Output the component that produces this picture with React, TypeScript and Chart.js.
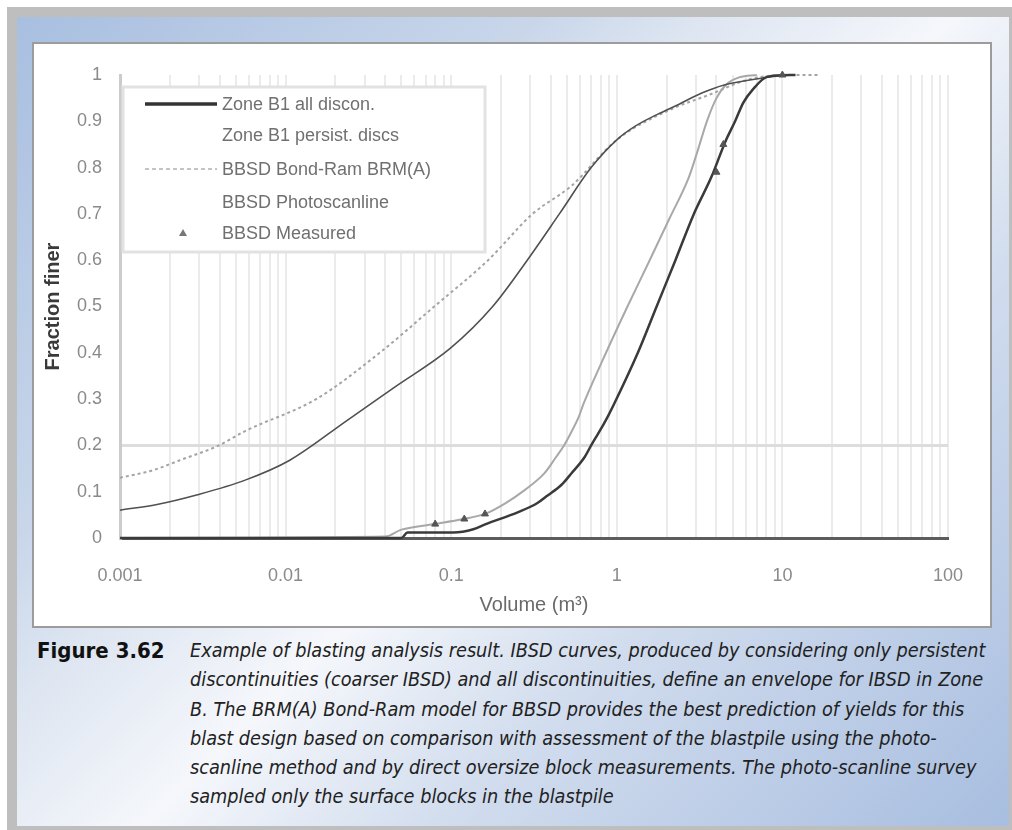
import React, { useEffect, useRef } from 'react';
import { Chart, registerables } from 'chart.js';

Chart.register(...registerables);

// ---- Axis ticks ----
const X_TICK_VALUES = [0.001, 0.01, 0.1, 1, 10, 100];
const X_TICK_LABELS = ['0.001', '0.01', '0.1', '1', '10', '100'];
const X_GRID_MULTIPLES = [1, 2, 3, 4, 5, 6, 7, 8, 9];
const Y_TICK_LABELS = ['0', '0.1', '0.2', '0.3', '0.4', '0.5', '0.6', '0.7', '0.8', '0.9', '1'];

// ---- Series names ----
const SERIES_NAMES = [
  'Zone B1 all discon.',
  'Zone B1 persist. discs',
  'BBSD Bond-Ram BRM(A)',
  'BBSD Photoscanline',
  'BBSD Measured',
];

// ---- Series values (volume m³, fraction finer) ----
const ALL_DISC_VOL = [0.001, 0.05, 0.0545, 0.103, 0.136, 0.162, 0.254, 0.33, 0.376, 0.464, 0.533, 0.64, 0.7, 0.77, 0.83, 0.89, 0.95, 1.34, 1.74, 2.26, 2.92, 3.73, 4.51, 5.18, 5.8, 6.6, 8.1, 12];
const ALL_DISC_FRAC = [0, 0, 0.012, 0.012, 0.019, 0.03, 0.056, 0.075, 0.09, 0.115, 0.14, 0.175, 0.2, 0.225, 0.245, 0.265, 0.285, 0.4, 0.5, 0.6, 0.7, 0.78, 0.855, 0.9, 0.94, 0.968, 0.996, 1];

const PERSIST_VOL = [0.001, 0.04, 0.05, 0.079, 0.118, 0.16, 0.212, 0.279, 0.366, 0.43, 0.48, 0.53, 0.59, 0.63, 0.8, 1.16, 1.58, 2.08, 2.73, 3.1, 3.5, 4.0, 4.6, 5.5, 7];
const PERSIST_FRAC = [0, 0.003, 0.018, 0.03, 0.041, 0.052, 0.075, 0.104, 0.14, 0.175, 0.2, 0.228, 0.262, 0.29, 0.375, 0.5, 0.6, 0.69, 0.78, 0.84, 0.9, 0.95, 0.98, 0.995, 1];

const BONDRAM_VOL = [0.001, 0.0016, 0.0023, 0.0039, 0.0057, 0.0153, 0.037, 0.079, 0.167, 0.31, 0.53, 1.0, 2.1, 3.6, 6.2, 10.6, 17];
const BONDRAM_FRAC = [0.13, 0.147, 0.168, 0.199, 0.231, 0.3, 0.4, 0.5, 0.6, 0.7, 0.76, 0.86, 0.925, 0.957, 0.99, 1, 1];

const PHOTO_VOL = [0.001, 0.0017, 0.0029, 0.0057, 0.0106, 0.0231, 0.0456, 0.099, 0.178, 0.288, 0.45, 0.7, 1.0, 1.3, 1.76, 2.38, 3.26, 4.4, 8.1, 10.6];
const PHOTO_FRAC = [0.06, 0.073, 0.093, 0.125, 0.168, 0.252, 0.326, 0.41, 0.5, 0.6, 0.7, 0.8, 0.86, 0.89, 0.915, 0.937, 0.961, 0.978, 0.995, 1];

const MEASURED_VOL = [0.08, 0.12, 0.16, 4.0, 4.4, 10];
const MEASURED_FRAC = [0.03, 0.041, 0.052, 0.79, 0.85, 1];

const CAPTION_LINES = [
  'Example of blasting analysis result. IBSD curves, produced by considering only persistent',
  'discontinuities (coarser IBSD) and all discontinuities, define an envelope for IBSD in Zone',
  'B. The BRM(A) Bond-Ram model for BBSD provides the best prediction of yields for this',
  'blast design based on comparison with assessment of the blastpile using the photo-',
  'scanline method and by direct oversize block measurements. The photo-scanline survey',
  'sampled only the surface blocks in the blastpile',
];

const pts = (xs: number[], ys: number[]) => xs.map((x, i) => ({ x, y: ys[i] }));

const FONT = '"Liberation Sans", Arial, sans-serif';

const legendPlugin = {
  id: 'boxLegend',
  beforeDatasetsDraw(chart: any) {
    const ctx = chart.ctx as CanvasRenderingContext2D;
    const bx = 89, by = 43, bw = 362, bh = 165;
    ctx.save();
    ctx.fillStyle = '#ffffff';
    ctx.fillRect(bx, by, bw, bh);
    ctx.strokeStyle = '#e2e2e2';
    ctx.lineWidth = 3;
    ctx.strokeRect(bx, by, bw, bh);
    const rows = [60, 91, 125, 158, 189];
    const x0 = 111, x1 = 183, tx = 188;
    ctx.font = '18px ' + FONT;
    ctx.fillStyle = '#707070';
    ctx.textBaseline = 'middle';
    ctx.textAlign = 'left';
    rows.forEach((y, i) => {
      if (i === 0) {
        ctx.strokeStyle = '#333333';
        ctx.lineWidth = 3.5;
        ctx.setLineDash([]);
        ctx.beginPath(); ctx.moveTo(x0, y); ctx.lineTo(x1, y); ctx.stroke();
      } else if (i === 2) {
        ctx.strokeStyle = '#c4c4c4';
        ctx.lineWidth = 2;
        ctx.setLineDash([4, 3]);
        ctx.beginPath(); ctx.moveTo(x0, y); ctx.lineTo(x1, y); ctx.stroke();
        ctx.setLineDash([]);
      } else if (i === 4) {
        ctx.fillStyle = '#777777';
        ctx.beginPath();
        ctx.moveTo(149, y - 4); ctx.lineTo(153, y + 3); ctx.lineTo(145, y + 3); ctx.closePath();
        ctx.fill();
        ctx.fillStyle = '#707070';
      }
      ctx.fillText(SERIES_NAMES[i], tx, y + 1);
    });
    ctx.restore();
  },
};

function ChartView() {
  const ref = useRef<HTMLCanvasElement | null>(null);
  useEffect(() => {
    if (!ref.current) return;
    const gridValues: number[] = [];
    X_TICK_VALUES.slice(0, -1).forEach((d) => X_GRID_MULTIPLES.forEach((m) => gridValues.push(+(d * m).toPrecision(6))));
    gridValues.push(X_TICK_VALUES[X_TICK_VALUES.length - 1]);

    const chart = new Chart(ref.current, {
      type: 'scatter',
      data: {
        datasets: [
          {
            label: SERIES_NAMES[0], data: pts(ALL_DISC_VOL, ALL_DISC_FRAC), showLine: true,
            borderColor: '#3a3a3a', borderWidth: 2.5, pointRadius: 0, cubicInterpolationMode: 'monotone', order: 2, clip: false,
          } as any,
          {
            label: SERIES_NAMES[1], data: pts(PERSIST_VOL, PERSIST_FRAC), showLine: true,
            borderColor: '#a8a8a8', borderWidth: 2, pointRadius: 0, cubicInterpolationMode: 'monotone', order: 5, clip: false,
          } as any,
          {
            label: SERIES_NAMES[2], data: pts(BONDRAM_VOL, BONDRAM_FRAC), showLine: true,
            borderColor: '#a4a4a4', borderWidth: 2, borderDash: [3, 3], pointRadius: 0, cubicInterpolationMode: 'monotone', order: 4, clip: false,
          } as any,
          {
            label: SERIES_NAMES[3], data: pts(PHOTO_VOL, PHOTO_FRAC), showLine: true,
            borderColor: '#505050', borderWidth: 1.6, pointRadius: 0, cubicInterpolationMode: 'monotone', order: 3, clip: false,
          } as any,
          {
            label: SERIES_NAMES[4], data: pts(MEASURED_VOL, MEASURED_FRAC), showLine: false,
            pointStyle: 'triangle', pointRadius: 4, backgroundColor: '#555555', borderColor: '#555555', order: 1, clip: false,
          } as any,
        ],
      },
      options: {
        animation: false,
        responsive: false,
        maintainAspectRatio: false,
        layout: { padding: { left: 0, right: 26, top: 31, bottom: 0 } },
        plugins: { legend: { display: false }, tooltip: { enabled: false } },
        scales: {
          x: {
            type: 'logarithmic',
            min: 0.001,
            max: 100,
            afterBuildTicks: (scale: any) => { scale.ticks = gridValues.map((v) => ({ value: v })); },
            afterFit: (scale: any) => { scale.height = 88; },
            ticks: {
              autoSkip: false, maxRotation: 0, minRotation: 0, padding: 27,
              color: '#8a8a8a', font: { family: FONT, size: 18 },
              callback: (v: any) => {
                const idx = X_TICK_VALUES.findIndex((t) => Math.abs(Math.log10(t) - Math.log10(Number(v))) < 1e-6);
                return idx >= 0 ? X_TICK_LABELS[idx] : '';
              },
            },
            grid: { color: '#ebebeb', lineWidth: 2, drawTicks: false },
            border: { color: '#5c5c5c', width: 3 },
            title: { display: true, text: 'Volume (m³)', color: '#6a6a6a', font: { family: FONT, size: 20 }, padding: { top: 0, bottom: 9 } },
          },
          y: {
            type: 'linear',
            min: 0,
            max: 1,
            afterFit: (scale: any) => { scale.width = 86; },
            ticks: {
              stepSize: 0.1, padding: 18, color: '#8a8a8a', font: { family: FONT, size: 18 },
              callback: (v: any) => Y_TICK_LABELS[Math.round(Number(v) * 10)],
            },
            grid: {
              drawTicks: false, lineWidth: 3,
              color: (c: any) => (c.tick && Math.abs(c.tick.value - 0.2) < 1e-9 ? '#dddddd' : 'rgba(0,0,0,0)'),
            },
            border: { color: '#cccccc', width: 3 },
            title: { display: true, text: 'Fraction finer', color: '#3a3a3a', font: { family: FONT, size: 20, weight: 'bold' }, padding: { top: 7, bottom: 0 } },
          },
        },
      } as any,
      plugins: [legendPlugin],
    });
    return () => chart.destroy();
  }, []);
  return <canvas ref={ref} width={956} height={582} style={{ position: 'absolute', left: 34, top: 44, width: 956, height: 582 }} />;
}

export default function App() {
  const capFont = '"Liberation Sans Narrow", "DejaVu Sans Condensed", "Liberation Sans", sans-serif';
  return (
    <div style={{ position: 'relative', width: 1012, height: 830, background: '#ffffff', overflow: 'hidden' }}>
      <style>{'body{margin:0}'}</style>
      <div style={{ position: 'absolute', left: 7, top: 7, right: 0, bottom: 0, background: '#bebebe' }} />
      <div
        style={{
          position: 'absolute', left: 17, top: 17, width: 992, height: 809,
          background: 'linear-gradient(135deg, #a8bfe0 0%, #c9d6ea 29%, #dde5f1 38%, #f5f7fb 52%, #d2ddee 68%, #afc3e2 94%, #a8bee0 100%)',
        }}
      />
      <div style={{ position: 'absolute', left: 32, top: 42, width: 960, height: 586, background: '#ffffff', border: '2px solid #9c9c9c', boxSizing: 'border-box' }} />
      <ChartView />
      <div style={{ position: 'absolute', left: 37, top: 636, fontFamily: capFont, fontWeight: 'bold', fontSize: 22, lineHeight: '29.3px', color: '#111' }}>
        Figure 3.62
      </div>
      <div style={{ position: 'absolute', left: 190, top: 636, fontFamily: capFont, fontStyle: 'italic', fontSize: 19.7, lineHeight: '29.3px', color: '#222', whiteSpace: 'nowrap' }}>
        {CAPTION_LINES.map((l, i) => (
          <div key={i}>{l}</div>
        ))}
      </div>
    </div>
  );
}
